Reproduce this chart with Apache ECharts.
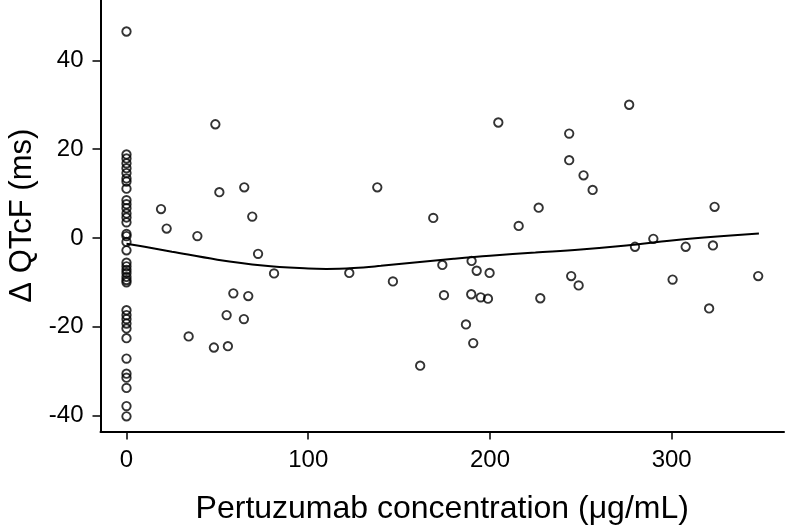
<!DOCTYPE html>
<html>
<head>
<meta charset="utf-8">
<script src="https://cdn.jsdelivr.net/npm/echarts@6/dist/echarts.min.js"></script>
<style>
html,body{margin:0;padding:0;background:#fff;}
#c{width:786px;height:529px;}
</style>
</head>
<body>
<div id="c"></div>
<script>
// Observed points: Pertuzumab concentration (µg/mL) and ΔQTcF (ms)
const concentration = [
  0,0,0,0,0,0,0,0,0,0,0,0,0,0,0,0,0,0,0,0,0,0,0,0,0,0,0,0,0,0,0,0,0,0,0,0,0,0,
  19.0,22.1,34.2,39.0,48.1,48.9,51.1,55.1,55.8,58.8,64.6,64.8,67.0,69.2,72.4,81.2,
  122.6,138.0,146.6,161.6,168.8,173.8,174.7,186.8,189.7,189.9,190.8,192.7,194.9,198.9,199.8,
  204.6,215.8,226.8,227.7,243.6,243.6,244.7,248.8,251.5,256.5,276.6,279.8,289.9,
  300.5,307.7,320.6,322.7,323.6,347.6
];
const deltaQTcF = [
  46.5,18.8,17.9,16.8,15.7,14.6,13.4,12.7,11.1,8.5,7.6,6.7,5.5,4.6,3.5,0.9,0.4,-0.9,-2.8,
  -5.6,-6.4,-7.2,-7.9,-8.8,-9.5,-10.0,-16.3,-17.4,-18.3,-19.3,-20.4,-22.6,-27.2,-30.6,-31.5,-33.8,-37.9,-40.2,
  6.5,2.1,-22.2,0.4,-24.7,25.6,10.3,-17.4,-24.4,-12.5,-18.3,11.4,-13.1,4.8,-3.6,-8.0,
  -7.9,11.4,-9.8,-28.8,4.5,-6.1,-12.9,-19.5,-12.7,-5.2,-23.7,-7.4,-13.4,-13.7,-7.9,
  26.0,2.7,6.8,-13.6,23.5,17.5,-8.6,-10.7,14.1,10.8,30.0,-2.0,-0.2,
  -9.4,-2.0,-15.9,-1.7,7.0,-8.6
];
// Smoothed (loess-like) trend line
const trendX = [0,10,25,50,75,100,110,125,140,160,180,200,225,250,275,300,325,348];
const trendY = [-1.3,-2.0,-3.1,-4.9,-6.2,-6.9,-7.0,-6.8,-6.3,-5.5,-4.7,-4.0,-3.3,-2.6,-1.7,-0.6,0.3,1.0];
// Tick values
const xTicks = [0,100,200,300];
const yTicks = [-40,-20,0,20,40];
const xTitle = 'Pertuzumab concentration (μg/mL)';
const yTitle = 'Δ QTcF (ms)';

const scatterData = concentration.map((x,i)=>[x, deltaQTcF[i]]);
const lineData = trendX.map((x,i)=>[x, trendY[i]]);

const FONT = '"Liberation Sans", Arial, Helvetica, sans-serif';
const chart = echarts.init(document.getElementById('c'), null, {renderer:'canvas'});
chart.setOption({
  animation:false,
  backgroundColor:'#fff',
  grid:{left:100.5, right:2, top:0, bottom:97.6, containLabel:false, outerBoundsMode:'none'},
  xAxis:{
    type:'value', min:-14.3, max:361.8,
    name:xTitle, nameLocation:'middle', nameGap:62,
    nameTextStyle:{fontSize:32, color:'#000', fontFamily:FONT},
    axisLine:{show:true, onZero:false, lineStyle:{color:'#000', width:2}},
    axisTick:{show:true, customValues:xTicks, length:8, lineStyle:{color:'#000', width:1.5}},
    axisLabel:{customValues:xTicks, margin:17, fontSize:24, color:'#000', fontFamily:FONT},
    splitLine:{show:false}
  },
  yAxis:{
    type:'value', min:-43.6, max:53.6,
    name:yTitle, nameLocation:'middle', nameGap:62, nameRotate:90,
    nameTextStyle:{fontSize:31, color:'#000', fontFamily:FONT},
    axisLine:{show:true, onZero:false, lineStyle:{color:'#000', width:2}},
    axisTick:{show:true, customValues:yTicks, length:8, lineStyle:{color:'#000', width:1.5}},
    axisLabel:{customValues:yTicks, margin:17, fontSize:24, color:'#000', fontFamily:FONT},
    splitLine:{show:false}
  },
  series:[
    {
      type:'scatter', data:scatterData, symbol:'circle', symbolSize:8.4,
      itemStyle:{color:'rgba(0,0,0,0)', borderColor:'#000', borderWidth:1.9},
      z:3
    },
    {
      type:'line', data:lineData, smooth:0.4, showSymbol:false, symbol:'none',
      lineStyle:{color:'#000', width:2},
      z:2
    }
  ]
});
</script>
</body>
</html>
